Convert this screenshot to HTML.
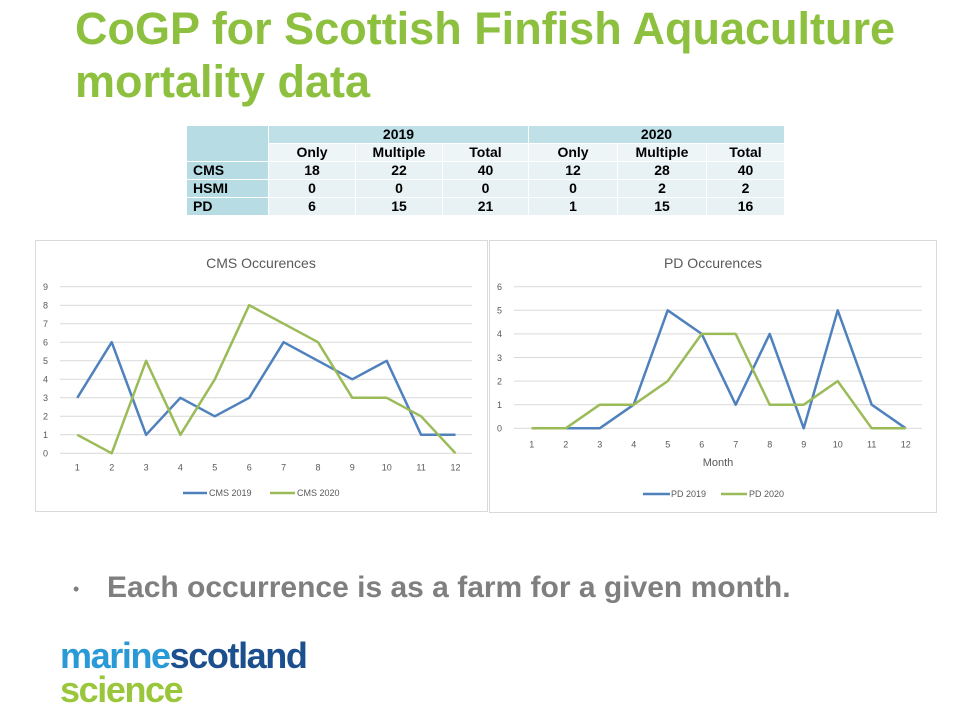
<!DOCTYPE html>
<html>
<head>
<meta charset="utf-8">
<style>
  html,body{margin:0;padding:0;background:#fff;}
  body{width:954px;height:715px;position:relative;overflow:hidden;font-family:"Liberation Sans",Arial,sans-serif;}
  .title{position:absolute;left:75px;top:2px;font-size:45px;line-height:53px;font-weight:bold;color:#8dc03f;white-space:nowrap;}
  table.t{position:absolute;left:186px;top:125px;border-collapse:collapse;table-layout:fixed;width:598px;font-weight:bold;font-size:14px;color:#000;}
  table.t td{border:1px solid #fff;height:17px;padding:0;line-height:17px;text-align:center;overflow:hidden;white-space:nowrap;}
  .hd{background:#bfe0e7;}
  .lb{background:#b7dce4;text-align:left !important;padding-left:6px !important;}
  .sub{background:#edf5f7;}
  .dt{background:#e8f1f4;}
  .bullet{position:absolute;left:107px;top:573px;font-size:30px;line-height:30px;font-weight:bold;color:#7f7f7f;white-space:nowrap;}
  .dot{position:absolute;left:73px;top:580px;font-size:18px;line-height:18px;color:#7f7f7f;}
  .logo{position:absolute;left:60px;font-size:36px;line-height:36px;font-weight:bold;letter-spacing:-1.4px;white-space:nowrap;}
</style>
</head>
<body>
<div class="title">CoGP for Scottish Finfish Aquaculture<br>mortality data</div>

<table class="t">
  <colgroup>
    <col style="width:82px"><col style="width:87px"><col style="width:87px"><col style="width:86px"><col style="width:89px"><col style="width:89px"><col style="width:78px">
  </colgroup>
  <tr><td class="lb" rowspan="2" style="background:#b7dce4"></td><td class="hd" colspan="3">2019</td><td class="hd" colspan="3">2020</td></tr>
  <tr><td class="sub">Only</td><td class="sub">Multiple</td><td class="sub">Total</td><td class="sub">Only</td><td class="sub">Multiple</td><td class="sub">Total</td></tr>
  <tr><td class="lb">CMS</td><td class="dt">18</td><td class="dt">22</td><td class="dt">40</td><td class="dt">12</td><td class="dt">28</td><td class="dt">40</td></tr>
  <tr><td class="lb">HSMI</td><td class="dt">0</td><td class="dt">0</td><td class="dt">0</td><td class="dt">0</td><td class="dt">2</td><td class="dt">2</td></tr>
  <tr><td class="lb">PD</td><td class="dt">6</td><td class="dt">15</td><td class="dt">21</td><td class="dt">1</td><td class="dt">15</td><td class="dt">16</td></tr>
</table>

<svg width="954" height="715" style="position:absolute;left:0;top:0" xmlns="http://www.w3.org/2000/svg" font-family="Liberation Sans, Arial, sans-serif">
  <!-- Left chart -->
  <rect x="35.5" y="240.5" width="452" height="271" fill="#fff" stroke="#d9d9d9"/>
  <text x="261" y="268" font-size="14" fill="#595959" text-anchor="middle">CMS Occurences</text>
  <g stroke="#d9d9d9" stroke-width="1">
    <line x1="60" x2="472" y1="286.7" y2="286.7"/>
    <line x1="60" x2="472" y1="305.2" y2="305.2"/>
    <line x1="60" x2="472" y1="323.7" y2="323.7"/>
    <line x1="60" x2="472" y1="342.2" y2="342.2"/>
    <line x1="60" x2="472" y1="360.8" y2="360.8"/>
    <line x1="60" x2="472" y1="379.3" y2="379.3"/>
    <line x1="60" x2="472" y1="397.8" y2="397.8"/>
    <line x1="60" x2="472" y1="416.3" y2="416.3"/>
    <line x1="60" x2="472" y1="434.8" y2="434.8"/>
    <line x1="60" x2="472" y1="453.3" y2="453.3"/>
  </g>
  <g font-size="9" fill="#595959" text-anchor="end">
    <text x="48" y="290">9</text><text x="48" y="308.5">8</text><text x="48" y="327">7</text>
    <text x="48" y="345.5">6</text><text x="48" y="364">5</text><text x="48" y="382.5">4</text>
    <text x="48" y="401">3</text><text x="48" y="419.5">2</text><text x="48" y="438">1</text>
    <text x="48" y="456.5">0</text>
  </g>
  <g font-size="9" fill="#595959" text-anchor="middle">
    <text x="77.3" y="470.5">1</text><text x="111.7" y="470.5">2</text><text x="146.1" y="470.5">3</text>
    <text x="180.4" y="470.5">4</text><text x="214.8" y="470.5">5</text><text x="249.2" y="470.5">6</text>
    <text x="283.6" y="470.5">7</text><text x="318" y="470.5">8</text><text x="352.3" y="470.5">9</text>
    <text x="386.7" y="470.5">10</text><text x="421.1" y="470.5">11</text><text x="455.5" y="470.5">12</text>
  </g>
  <polyline fill="none" stroke="#4f81bd" stroke-width="2.5" stroke-linejoin="round"
    points="77.3,397.8 111.7,342.2 146.1,434.8 180.4,397.8 214.8,416.3 249.2,397.8 283.6,342.2 318,360.8 352.3,379.3 386.7,360.8 421.1,434.8 455.5,434.8"/>
  <polyline fill="none" stroke="#9bbb59" stroke-width="2.5" stroke-linejoin="round"
    points="77.3,434.8 111.7,453.3 146.1,360.8 180.4,434.8 214.8,379.3 249.2,305.2 283.6,323.7 318,342.2 352.3,397.8 386.7,397.8 421.1,416.3 455.5,453.3"/>
  <line x1="183" x2="207" y1="493" y2="493" stroke="#4f81bd" stroke-width="2.5"/>
  <text x="209" y="496" font-size="9" fill="#595959">CMS 2019</text>
  <line x1="270" x2="295" y1="493" y2="493" stroke="#9bbb59" stroke-width="2.5"/>
  <text x="297" y="496" font-size="9" fill="#595959">CMS 2020</text>

  <!-- Right chart -->
  <rect x="489.5" y="240.5" width="447" height="272" fill="#fff" stroke="#d9d9d9"/>
  <text x="713" y="268" font-size="14" fill="#595959" text-anchor="middle">PD Occurences</text>
  <g stroke="#d9d9d9" stroke-width="1">
    <line x1="514" x2="922" y1="286.7" y2="286.7"/>
    <line x1="514" x2="922" y1="310.3" y2="310.3"/>
    <line x1="514" x2="922" y1="333.9" y2="333.9"/>
    <line x1="514" x2="922" y1="357.5" y2="357.5"/>
    <line x1="514" x2="922" y1="381.1" y2="381.1"/>
    <line x1="514" x2="922" y1="404.7" y2="404.7"/>
    <line x1="514" x2="922" y1="428.3" y2="428.3"/>
  </g>
  <g font-size="9" fill="#595959" text-anchor="end">
    <text x="502" y="290">6</text><text x="502" y="313.6">5</text><text x="502" y="337.2">4</text>
    <text x="502" y="360.8">3</text><text x="502" y="384.4">2</text><text x="502" y="408">1</text>
    <text x="502" y="431.6">0</text>
  </g>
  <g font-size="9" fill="#595959" text-anchor="middle">
    <text x="531.7" y="447.5">1</text><text x="565.7" y="447.5">2</text><text x="599.7" y="447.5">3</text>
    <text x="633.7" y="447.5">4</text><text x="667.7" y="447.5">5</text><text x="701.7" y="447.5">6</text>
    <text x="735.7" y="447.5">7</text><text x="769.7" y="447.5">8</text><text x="803.7" y="447.5">9</text>
    <text x="837.7" y="447.5">10</text><text x="871.7" y="447.5">11</text><text x="905.7" y="447.5">12</text>
  </g>
  <text x="718" y="466" font-size="11" fill="#595959" text-anchor="middle">Month</text>
  <polyline fill="none" stroke="#4f81bd" stroke-width="2.5" stroke-linejoin="round"
    points="531.7,428.3 565.7,428.3 599.7,428.3 633.7,404.7 667.7,310.3 701.7,333.9 735.7,404.7 769.7,333.9 803.7,428.3 837.7,310.3 871.7,404.7 905.7,428.3"/>
  <polyline fill="none" stroke="#9bbb59" stroke-width="2.5" stroke-linejoin="round"
    points="531.7,428.3 565.7,428.3 599.7,404.7 633.7,404.7 667.7,381.1 701.7,333.9 735.7,333.9 769.7,404.7 803.7,404.7 837.7,381.1 871.7,428.3 905.7,428.3"/>
  <line x1="643" x2="670" y1="494" y2="494" stroke="#4f81bd" stroke-width="2.5"/>
  <text x="671" y="497" font-size="9" fill="#595959">PD 2019</text>
  <line x1="721" x2="747" y1="494" y2="494" stroke="#9bbb59" stroke-width="2.5"/>
  <text x="749" y="497" font-size="9" fill="#595959">PD 2020</text>
</svg>

<div class="dot">•</div>
<div class="bullet">Each occurrence is as a farm for a given month.</div>

<div class="logo" style="top:638px;"><span style="color:#2a9ad6">marine</span><span style="color:#1b4f8e">scotland</span></div>
<div class="logo" style="top:672px;color:#9ac63c">science</div>
</body>
</html>
